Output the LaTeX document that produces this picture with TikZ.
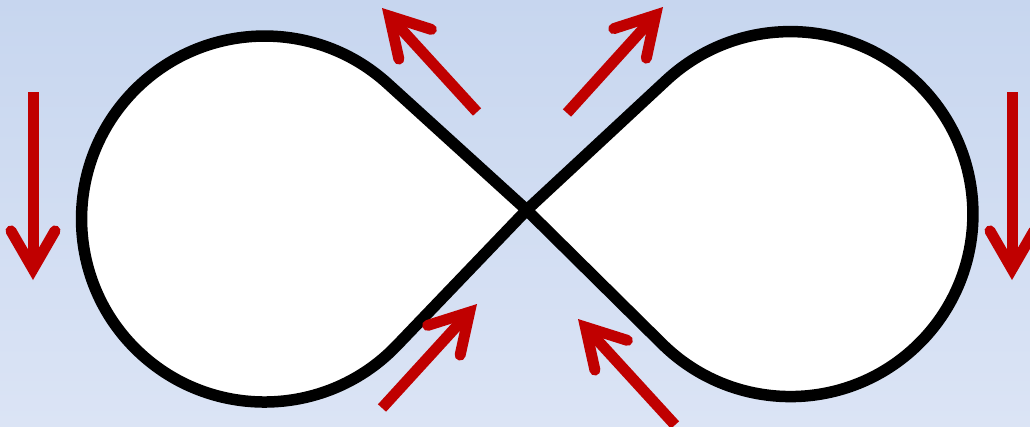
\documentclass[tikz,border=0pt]{standalone}
\usetikzlibrary{calc}
\definecolor{bgtop}{RGB}{199,214,239}
\definecolor{bgbot}{RGB}{219,228,245}
\definecolor{arrred}{RGB}{192,0,0}
\tikzset{
  loopline/.style={draw=black, line width=11.5pt, fill=white, line join=round},
  arrowline/.style={draw=arrred, line width=11pt}
}
% #1 = shaft start, #2 = tip
\newcommand\redarrow[2]{%
  \coordinate (v) at ($(#2)!11pt!(#1)$);
  \draw[arrowline, line cap=butt] (#1) -- (v);
  \draw[arrowline, line cap=round, line join=miter]
    ($(v)!44pt!30:(#1)$) -- (v) -- ($(v)!44pt!-30:(#1)$);
}
\begin{document}
\begin{tikzpicture}[x=1pt,y=-1pt]
\useasboundingbox (0,0) rectangle (1030,426);
\clip (0,0) rectangle (1030,426);
\shade[top color=bgtop,bottom color=bgbot] (0,0) rectangle (1030,426);

% figure eight
\coordinate (X) at (526.7,210);
\coordinate (TR1) at (666.2,80.4);
\coordinate (TL1) at (387.6,83.6);
\draw[loopline] (X) -- (TR1)
  arc[start angle=227.1, end angle=494.64, radius=182.5] -- (X)
  -- (TL1) arc[start angle=-47.74, end angle=-316.2, radius=183] -- cycle;

% arrows
\coordinate (a1s) at (33,92);   \coordinate (a1t) at (33,280);
\coordinate (a2s) at (1012,92); \coordinate (a2t) at (1012,280);
\coordinate (a3s) at (477,112); \coordinate (a3t) at (382,8);
\coordinate (a4s) at (567,113); \coordinate (a4t) at (663,7);
\coordinate (a5s) at (382,408); \coordinate (a5t) at (477,304);
\coordinate (a6s) at (675,425); \coordinate (a6t) at (578,319);
\redarrow{a1s}{a1t}
\redarrow{a2s}{a2t}
\redarrow{a3s}{a3t}
\redarrow{a4s}{a4t}
\redarrow{a5s}{a5t}
\redarrow{a6s}{a6t}
\end{tikzpicture}
\end{document}
